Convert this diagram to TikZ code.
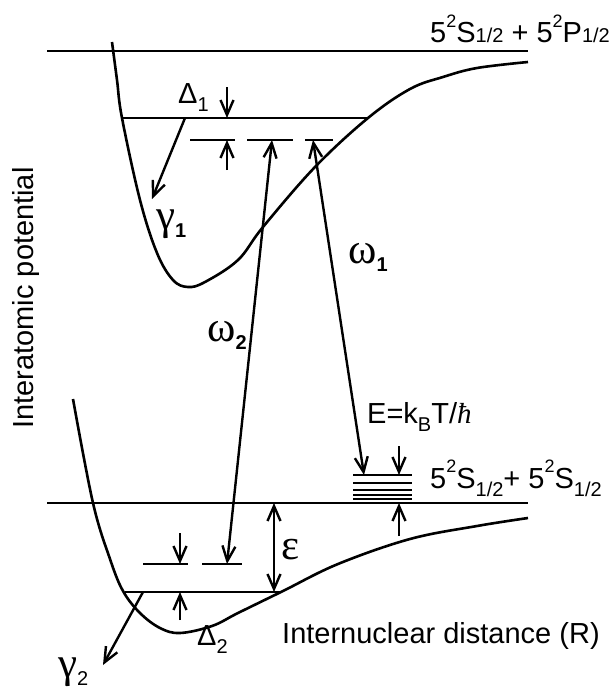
\documentclass[tikz,border=0pt]{standalone}
\usepackage{fontspec}
\setmainfont{Liberation Sans}
\newfontfamily\grk{Liberation Serif}
\usepackage{tikz}
\usetikzlibrary{arrows.meta}
\newcommand{\lo}[1]{\raisebox{-0.28em}{\fontsize{20}{20}\selectfont #1}}
\newcommand{\hi}[1]{\raisebox{0.52em}{\fontsize{18}{18}\selectfont #1}}
\newcommand{\sm}[1]{{\fontsize{20}{20}\selectfont #1}}
\newcommand{\gk}[1]{{\fontsize{43}{46}\grk #1}}

\begin{document}
\begin{tikzpicture}[x=1pt, y=-1pt,
    lbl/.style={font=\fontsize{29}{32}\selectfont, inner sep=0pt, anchor=base west},
    lev/.style={line width=2.8pt},
    asym/.style={line width=2.3pt},
    curve/.style={line width=2.6pt},
    arr/.style={-{Straight Barb[length=15pt, width=13pt]}, line width=2.4pt},
    darr/.style={{Straight Barb[length=15pt, width=13pt]}-{Straight Barb[length=15pt, width=13pt]}, line width=2.4pt}
]
\useasboundingbox (0,0) rectangle (615,693);

% asymptotes
\coordinate (topL) at (47,51);  \coordinate (topR) at (528,51);
\coordinate (botL) at (47,503); \coordinate (botR) at (528,503);
\draw[asym] (topL) -- (topR);
\draw[asym] (botL) -- (botR);

% potential curves
\draw[curve] plot[smooth, tension=0.6] coordinates {(112,42) (117,80) (122,118) (140,200) (157,253) (173,280) (188,287) (205,282) (238,260) (263,227) (315,167) (368,118) (410,89) (443,77) (477,68) (528,62)};
\draw[curve] plot[smooth, tension=0.6] coordinates {(73,399) (93,503) (110,559) (123,591) (140,613) (160,628) (180,633) (212,626) (238,613) (283,591) (338,564) (410,539) (477,526) (528,518)};

% upper levels
\coordinate (u0L) at (122,118); \coordinate (u0R) at (368,118);
\draw[lev] (u0L) -- (u0R);
\coordinate (ua1) at (190,140); \coordinate (ua1e) at (235,140);
\coordinate (ua2) at (247,140); \coordinate (ua2e) at (293,140);
\coordinate (ua3) at (305,140); \coordinate (ua3e) at (333,140);
\draw[lev] (ua1) -- (ua1e);
\draw[lev] (ua2) -- (ua2e);
\draw[lev] (ua3) -- (ua3e);

% lower levels
\coordinate (l0L) at (125,592); \coordinate (l0R) at (280,592);
\draw[lev] (l0L) -- (l0R);
\coordinate (lb1) at (143,564); \coordinate (lb1e) at (188,564);
\coordinate (lb2) at (202,564); \coordinate (lb2e) at (242,564);
\draw[lev] (lb1) -- (lb1e);
\draw[lev] (lb2) -- (lb2e);

% thermal continuum
\foreach \y in {475,483,490,495,499} {
    \draw[line width=2.4pt] (353,\y) -- (412,\y);
}

% arrows
\coordinate (d1a) at (227,87);  \coordinate (d1b) at (227,118);
\coordinate (d1c) at (227,170); \coordinate (d1d) at (227,140);
\draw[arr] (d1a) -- (d1b);
\draw[arr] (d1c) -- (d1d);
\coordinate (g1a) at (185,118); \coordinate (g1b) at (152,199);
\draw[arr] (g1a) -- (g1b);
\coordinate (w2a) at (227,564); \coordinate (w2b) at (272,140);
\draw[darr] (w2a) -- (w2b);
\coordinate (w1a) at (313,140); \coordinate (w1b) at (364,475);
\draw[darr] (w1a) -- (w1b);
\coordinate (d2a) at (180,533); \coordinate (d2b) at (180,564);
\coordinate (d2c) at (180,620); \coordinate (d2d) at (180,592);
\draw[arr] (d2a) -- (d2b);
\draw[arr] (d2c) -- (d2d);
\coordinate (g2a) at (143,592); \coordinate (g2b) at (103,665);
\draw[arr] (g2a) -- (g2b);
\coordinate (epa) at (274,503); \coordinate (epb) at (274,592);
\draw[darr] (epa) -- (epb);
\coordinate (ta) at (399,446); \coordinate (tb) at (399,475);
\coordinate (tc) at (399,536); \coordinate (td) at (399,503);
\draw[arr] (ta) -- (tb);
\draw[arr] (tc) -- (td);

% labels
\node[lbl] (toplbl) at (430,43) {5\hi{2}S\sm{1/2} + 5\hi{2}P\sm{1/2}};
\node[lbl] (botlbl) at (430,488) {5\hi{2}S\lo{1/2}+ 5\hi{2}S\lo{1/2}};
\node[lbl] (dlt1) at (178,103) {Δ\lo{1}};
\node[lbl] (gam1) at (156,229) {\gk{γ}\lo{\bfseries 1}};
\node[lbl] (om1) at (348,263) {\gk{ω}\lo{\bfseries 1}};
\node[lbl] (om2) at (207,341) {\gk{ω}\lo{\bfseries 2}};
\node[lbl] (eps) at (281,559) {\gk{ε}};
\node[lbl] (dlt2) at (197,645) {Δ\lo{2}};
\node[lbl] (gam2) at (58,677) {\gk{γ}\lo{2}};
\node[lbl] (therm) at (367,423) {E=k\lo{B}T/{\grk\itshape ħ}};
\node[lbl] (xlbl) at (282,643) {Internuclear distance (R)};
\node[lbl, rotate=90, anchor=base] (ylbl) at (33,298) {Interatomic potential};

\end{tikzpicture}
\end{document}
